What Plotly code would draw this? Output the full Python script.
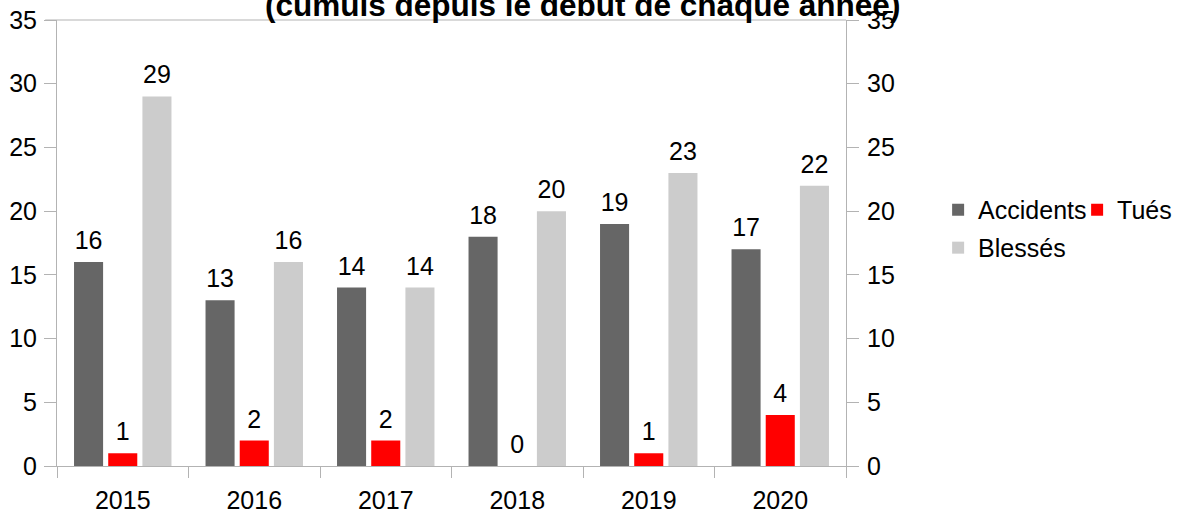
import plotly.graph_objects as go

years = ["2015", "2016", "2017", "2018", "2019", "2020"]
accidents = [16, 13, 14, 18, 19, 17]
tues = [1, 2, 2, 0, 1, 4]
blesses = [29, 16, 14, 20, 23, 22]
title_text = "(cumuls depuis le début de chaque année)"

FONT = "Liberation Sans, Arial, sans-serif"
AX = "#b3b3b3"
FS = 25

series = [("Accidents", accidents, "#666666", "legend"),
          ("Tués", tues, "#ff0000", "legend"),
          ("Blessés", blesses, "#cccccc", "legend2")]

fig = go.Figure()
for name, vals, col, lg in series:
    fig.add_trace(go.Bar(x=years, y=vals, name=name, marker_color=col, legend=lg,
                         marker_line_width=0, hoverinfo="x+y+name"))
# value labels, grouped the same way as the bars, on the mirrored right axis
for name, vals, col, lg in series:
    fig.add_trace(go.Scatter(x=years, y=vals, text=vals, mode="markers+text",
                             textposition="top center", yaxis="y2", showlegend=False,
                             marker=dict(size=9.2, opacity=0), cliponaxis=False,
                             textfont=dict(size=FS, color="black", family=FONT),
                             hoverinfo="skip"))

LGX = (937 - 57) / 788

fig.update_layout(
    width=1184, height=515,
    margin=dict(l=57, r=338, t=20, b=49, autoexpand=False),
    paper_bgcolor="white", plot_bgcolor="white",
    font=dict(family=FONT, size=FS, color="black"),
    barmode="group", bargap=0.22, bargroupgap=0.15,
    scattermode="group", scattergap=0.22,
    showlegend=True,
    legend=dict(orientation="h", x=LGX, y=0.574, xanchor="left", yanchor="middle",
                font=dict(size=FS), itemwidth=30, bgcolor="rgba(0,0,0,0)",
                traceorder="normal", entrywidth=94, entrywidthmode="pixels"),
    legend2=dict(orientation="h", x=LGX, y=0.489, xanchor="left", yanchor="middle",
                 font=dict(size=FS), itemwidth=30, bgcolor="rgba(0,0,0,0)"),
    xaxis=dict(showline=True, linecolor=AX, linewidth=1, ticks="outside", tickson="boundaries",
               ticklen=11, tickcolor=AX, showgrid=False, ticklabelstandoff=12,
               tickfont=dict(size=FS), automargin=False),
    yaxis=dict(range=[0, 35], dtick=5, showline=True, linecolor=AX, linewidth=1,
               ticks="outside", ticklen=12, tickcolor=AX, showgrid=False, zeroline=False,
               tickfont=dict(size=FS), ticklabelstandoff=2, automargin=False),
    yaxis2=dict(range=[0, 35], dtick=5, overlaying="y", side="right", showline=True,
                linecolor=AX, linewidth=1, ticks="outside", ticklen=12, tickcolor=AX,
                showgrid=False, zeroline=False, tickfont=dict(size=FS), ticklabelstandoff=3,
                automargin=False),
    shapes=[dict(type="line", xref="paper", yref="paper", x0=-0.015, x1=1, y0=1, y1=1,
                 line=dict(color=AX, width=1))],
    annotations=[dict(text="<b>" + title_text + "</b>", xref="paper", yref="paper",
                      x=(582 - 57) / 788, y=1.0, xanchor="center", yanchor="bottom", yshift=-5.5,
                      showarrow=False, font=dict(size=31.5, family=FONT, color="black"))],
)

fig.write_html("out.html", config={"displayModeBar": False},
               post_script="document.body.style.margin='0';document.body.style.overflow='hidden';")
